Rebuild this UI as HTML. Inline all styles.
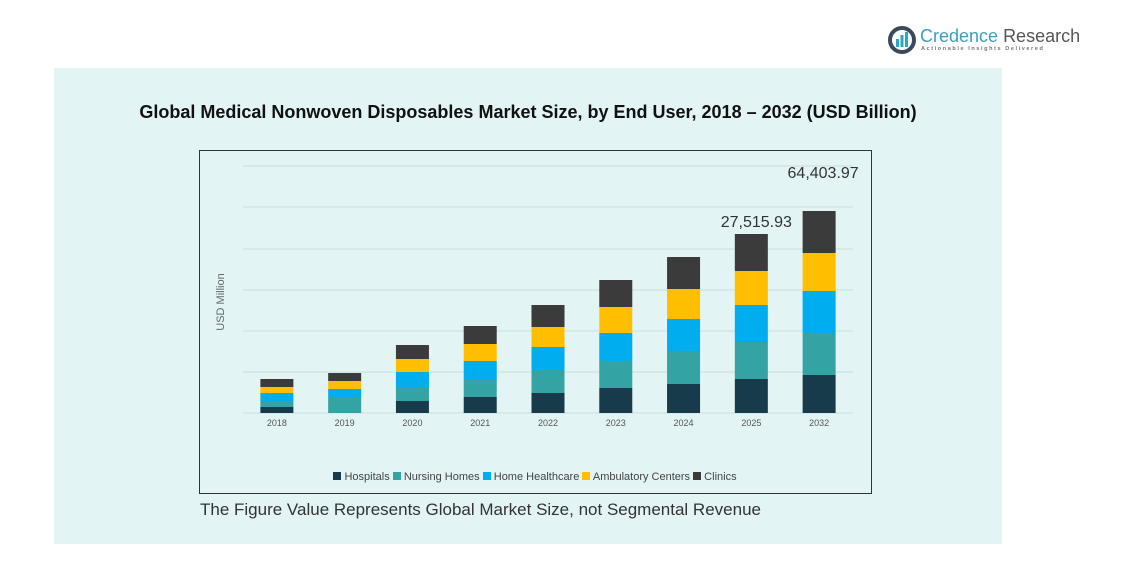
<!DOCTYPE html>
<html><head><meta charset="utf-8"><style>
body{margin:0;width:1148px;height:573px;background:#fff;font-family:"Liberation Sans",sans-serif;position:relative;overflow:hidden}
.abs{position:absolute}
</style></head><body>
<div class="abs" style="left:888px;top:26px;width:180px;height:30px">
<svg width="30" height="30" style="position:absolute;left:0;top:0"><circle cx="14" cy="14" r="12" fill="none" stroke="#3a4a5a" stroke-width="4"/><rect x="8" y="13" width="3" height="8" fill="#2aa7c9"/><rect x="12.5" y="9" width="3" height="12" fill="#2aa7c9"/><rect x="17" y="6" width="3" height="15" fill="#2aa7c9"/></svg>
<div class="abs" style="left:32px;top:0;font-size:18px;color:#3aa0c0;white-space:nowrap">Credence <span style="color:#555">Research</span></div>
<div class="abs" style="left:33px;top:20px;font-size:5.5px;letter-spacing:1.6px;color:#777;white-space:nowrap;font-weight:bold">Actionable Insights Delivered</div>
</div>
<div class="abs" style="left:54px;top:68px;width:948px;height:476px;background:#e2f4f4"></div>
<div class="abs" style="left:54px;width:948px;top:102px;text-align:center;font-size:18px;font-weight:bold;color:#111">Global Medical Nonwoven Disposables Market Size, by End User, 2018 – 2032 (USD Billion)</div>
<svg class="abs" style="left:0;top:0" width="1148" height="573">
<rect x="199.5" y="150.5" width="672" height="343" fill="none" stroke="#333" stroke-width="1"/>
<g id="grid"></g><g id="bars"></g><g id="labels"></g>
<text x="224" y="302" transform="rotate(-90 224 302)" text-anchor="middle" font-size="11" fill="#666">USD Million</text>
</svg>
<div class="abs" style="left:199px;width:672px;top:471px;text-align:center;font-size:11px;color:#444;white-space:nowrap">
<span><span style="display:inline-block;width:8px;height:8px;background:#173b4a"></span> Hospitals</span>
<span><span style="display:inline-block;width:8px;height:8px;background:#33a3a3"></span> Nursing Homes</span>
<span><span style="display:inline-block;width:8px;height:8px;background:#00adef"></span> Home Healthcare</span>
<span><span style="display:inline-block;width:8px;height:8px;background:#ffbf00"></span> Ambulatory Centers</span>
<span><span style="display:inline-block;width:8px;height:8px;background:#3b3b3b"></span> Clinics</span>
</div>
<div class="abs" style="left:200px;top:500px;font-size:17px;color:#333">The Figure Value Represents Global Market Size, not Segmental Revenue</div>
<script>
const categories=["2018","2019","2020","2021","2022","2023","2024","2025","2032"];
const hospitals=[6,0,12,16,20,25,29,34,38];
const nursingHomes=[6,16,14,18,23,27,33,37,42];
const homeHealthcare=[8,8,15,18,23,28,32,37,42];
const ambulatoryCenters=[6,8,13,17,20,26,30,34,38];
const clinics=[8,8,14,18,22,27,32,37,42];
const totalLabels={"2025":"27,515.93","2032":"64,403.97"};
const gridTicks=[0,41,82,123,164,206,247];
const NS="http://www.w3.org/2000/svg";
const labelOffset={"2025":{dx:5,dy:-7},"2032":{dx:4,dy:-33}};
const yMax=247, y0=413, yTop=166, xL=243, xR=853;
const y=v=>y0-v/yMax*(y0-yTop);
const band=(xR-xL)/categories.length;
const x=i=>xL+band*(i+0.5);
const bw=33;
const series=[[hospitals,"#173b4a","hospitals"],[nursingHomes,"#33a3a3","nursing-homes"],[homeHealthcare,"#00adef","home-healthcare"],[ambulatoryCenters,"#ffbf00","ambulatory-centers"],[clinics,"#3b3b3b","clinics"]];
const g=document.getElementById("grid");
gridTicks.forEach(t=>{const l=document.createElementNS(NS,"line");


l.setAttribute("x1",xL);l.setAttribute("x2",xR);l.setAttribute("y1",y(t));l.setAttribute("y2",y(t));l.setAttribute("stroke","#c8dede");l.setAttribute("stroke-width","1");g.appendChild(l);});
const b=document.getElementById("bars"),lb=document.getElementById("labels");
categories.forEach((c,i)=>{let acc=0;
series.forEach(([arr,col,nm])=>{const v=arr[i];if(v<=0)return;const r=document.createElementNS(NS,"rect");


r.setAttribute("x",x(i)-bw/2);r.setAttribute("y",y(acc+v));r.setAttribute("width",bw);r.setAttribute("height",y(acc)-y(acc+v));r.setAttribute("fill",col);b.appendChild(r);acc+=v;});
const t=document.createElementNS(NS,"text");


t.setAttribute("x",x(i));t.setAttribute("y",426);t.setAttribute("text-anchor","middle");t.setAttribute("font-size","9");t.setAttribute("fill","#555");t.textContent=c;lb.appendChild(t);
if(totalLabels[c]){const o=labelOffset[c]||{dx:0,dy:-10};const v=document.createElementNS(NS,"text");


v.setAttribute("x",x(i)+o.dx);v.setAttribute("y",y(acc)+o.dy);v.setAttribute("text-anchor","middle");v.setAttribute("font-size","16");v.setAttribute("fill","#333");v.textContent=totalLabels[c];lb.appendChild(v);}
});
</script>
</body></html>
